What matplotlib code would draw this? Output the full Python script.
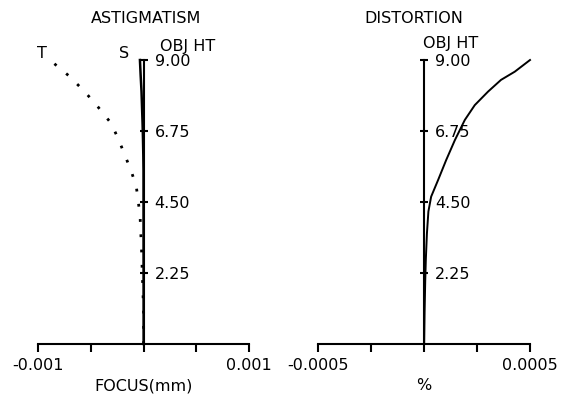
import matplotlib
matplotlib.use("Agg")
import matplotlib.pyplot as plt

plt.rcParams['font.family'] = 'DejaVu Sans'
plt.rcParams['font.size'] = 11.5

# object height (field) values
obj_ht_t = [0.0, 1.0, 2.0, 3.0, 4.0, 4.5, 5.0, 5.5, 6.0, 6.5, 7.0, 7.5, 8.0, 8.5, 9.0]
tangential = [0.0, 0.0, -0.00001, -0.00002, -0.000033, -0.00005, -0.00007, -0.00012,
              -0.00018, -0.00024, -0.00031, -0.00043, -0.00056, -0.00071, -0.00089]

obj_ht_s = [0.0, 5.5, 6.0, 6.5, 7.0, 7.5, 8.0, 8.5, 9.0]
sagittal = [0.0, -0.000001, -0.000003, -0.000006, -0.00001, -0.000015, -0.00002, -0.000028, -0.000035]

obj_ht_d = [0.0, 1.0, 2.0, 2.7, 3.5, 4.2, 4.67, 5.2, 5.83, 6.46, 7.1, 7.57, 8.0, 8.37, 8.63, 9.0]
distortion = [0.0, 0.000002, 0.000005, 0.000008, 0.000013, 0.00002, 0.000033, 0.000066,
              0.000104, 0.000145, 0.000192, 0.000239, 0.000302, 0.000363, 0.000428, 0.0005]

y_ticks = [2.25, 4.50, 6.75, 9.00]
y_labels = ['2.25', '4.50', '6.75', '9.00']
focus_ticks = [-0.001, -0.0005, 0, 0.0005, 0.001]
focus_labels = ['-0.001', '', '', '', '0.001']
dist_ticks = [-0.0005, -0.00025, 0, 0.00025, 0.0005]
dist_labels = ['-0.0005', '', '', '', '0.0005']

fig = plt.figure(figsize=(5.63, 3.94), dpi=100)
ax1 = fig.add_axes([0.068, 0.1269, 0.3742, 0.7208])
ax2 = fig.add_axes([0.5654, 0.1269, 0.376, 0.7208])


def style_axes(ax, xticks, xlabels, xmax):
    ax.set_xlim(-xmax, xmax)
    ax.set_ylim(0, 9)
    ax.spines['top'].set_visible(False)
    ax.spines['left'].set_visible(False)
    ax.spines['right'].set_position(('data', 0))
    ax.spines['right'].set_linewidth(1.5)
    ax.spines['bottom'].set_linewidth(1.5)
    ax.yaxis.set_ticks_position('right')
    ax.set_yticks(y_ticks)
    ax.set_yticklabels(y_labels)
    ax.tick_params(axis='y', direction='inout', length=6, width=1.5, pad=5)
    ax.set_xticks(xticks)
    ax.set_xticklabels(xlabels)
    ax.tick_params(axis='x', direction='out', length=6, width=1.5, pad=4)
    ax.patch.set_visible(False)


style_axes(ax1, focus_ticks, focus_labels, 0.001)
style_axes(ax2, dist_ticks, dist_labels, 0.0005)

# astigmatism
ax1.plot(tangential, obj_ht_t, color='black', lw=2.0, linestyle=(0, (1, 4.5)), clip_on=False)
ax1.plot(sagittal, obj_ht_s, color='black', lw=1.8, clip_on=False)
ax1.text(-0.00097, 9.21, 'T', ha='center', va='center')
ax1.text(-0.000182, 9.21, 'S', ha='center', va='center')
ax1.text(0.000413, 9.44, 'OBJ HT', ha='center', va='center')
ax1.text(0.000024, 10.3, 'ASTIGMATISM', ha='center', va='center')
ax1.set_xlabel('FOCUS(mm)', labelpad=4)

# distortion
ax2.plot(distortion, obj_ht_d, color='black', lw=1.4, clip_on=False)
ax2.text(0.000127, 9.51, 'OBJ HT', ha='center', va='center')
ax2.text(-0.000047, 10.3, 'DISTORTION', ha='center', va='center')
ax2.set_xlabel('%', labelpad=4)

fig.savefig('out.png', dpi=100)
